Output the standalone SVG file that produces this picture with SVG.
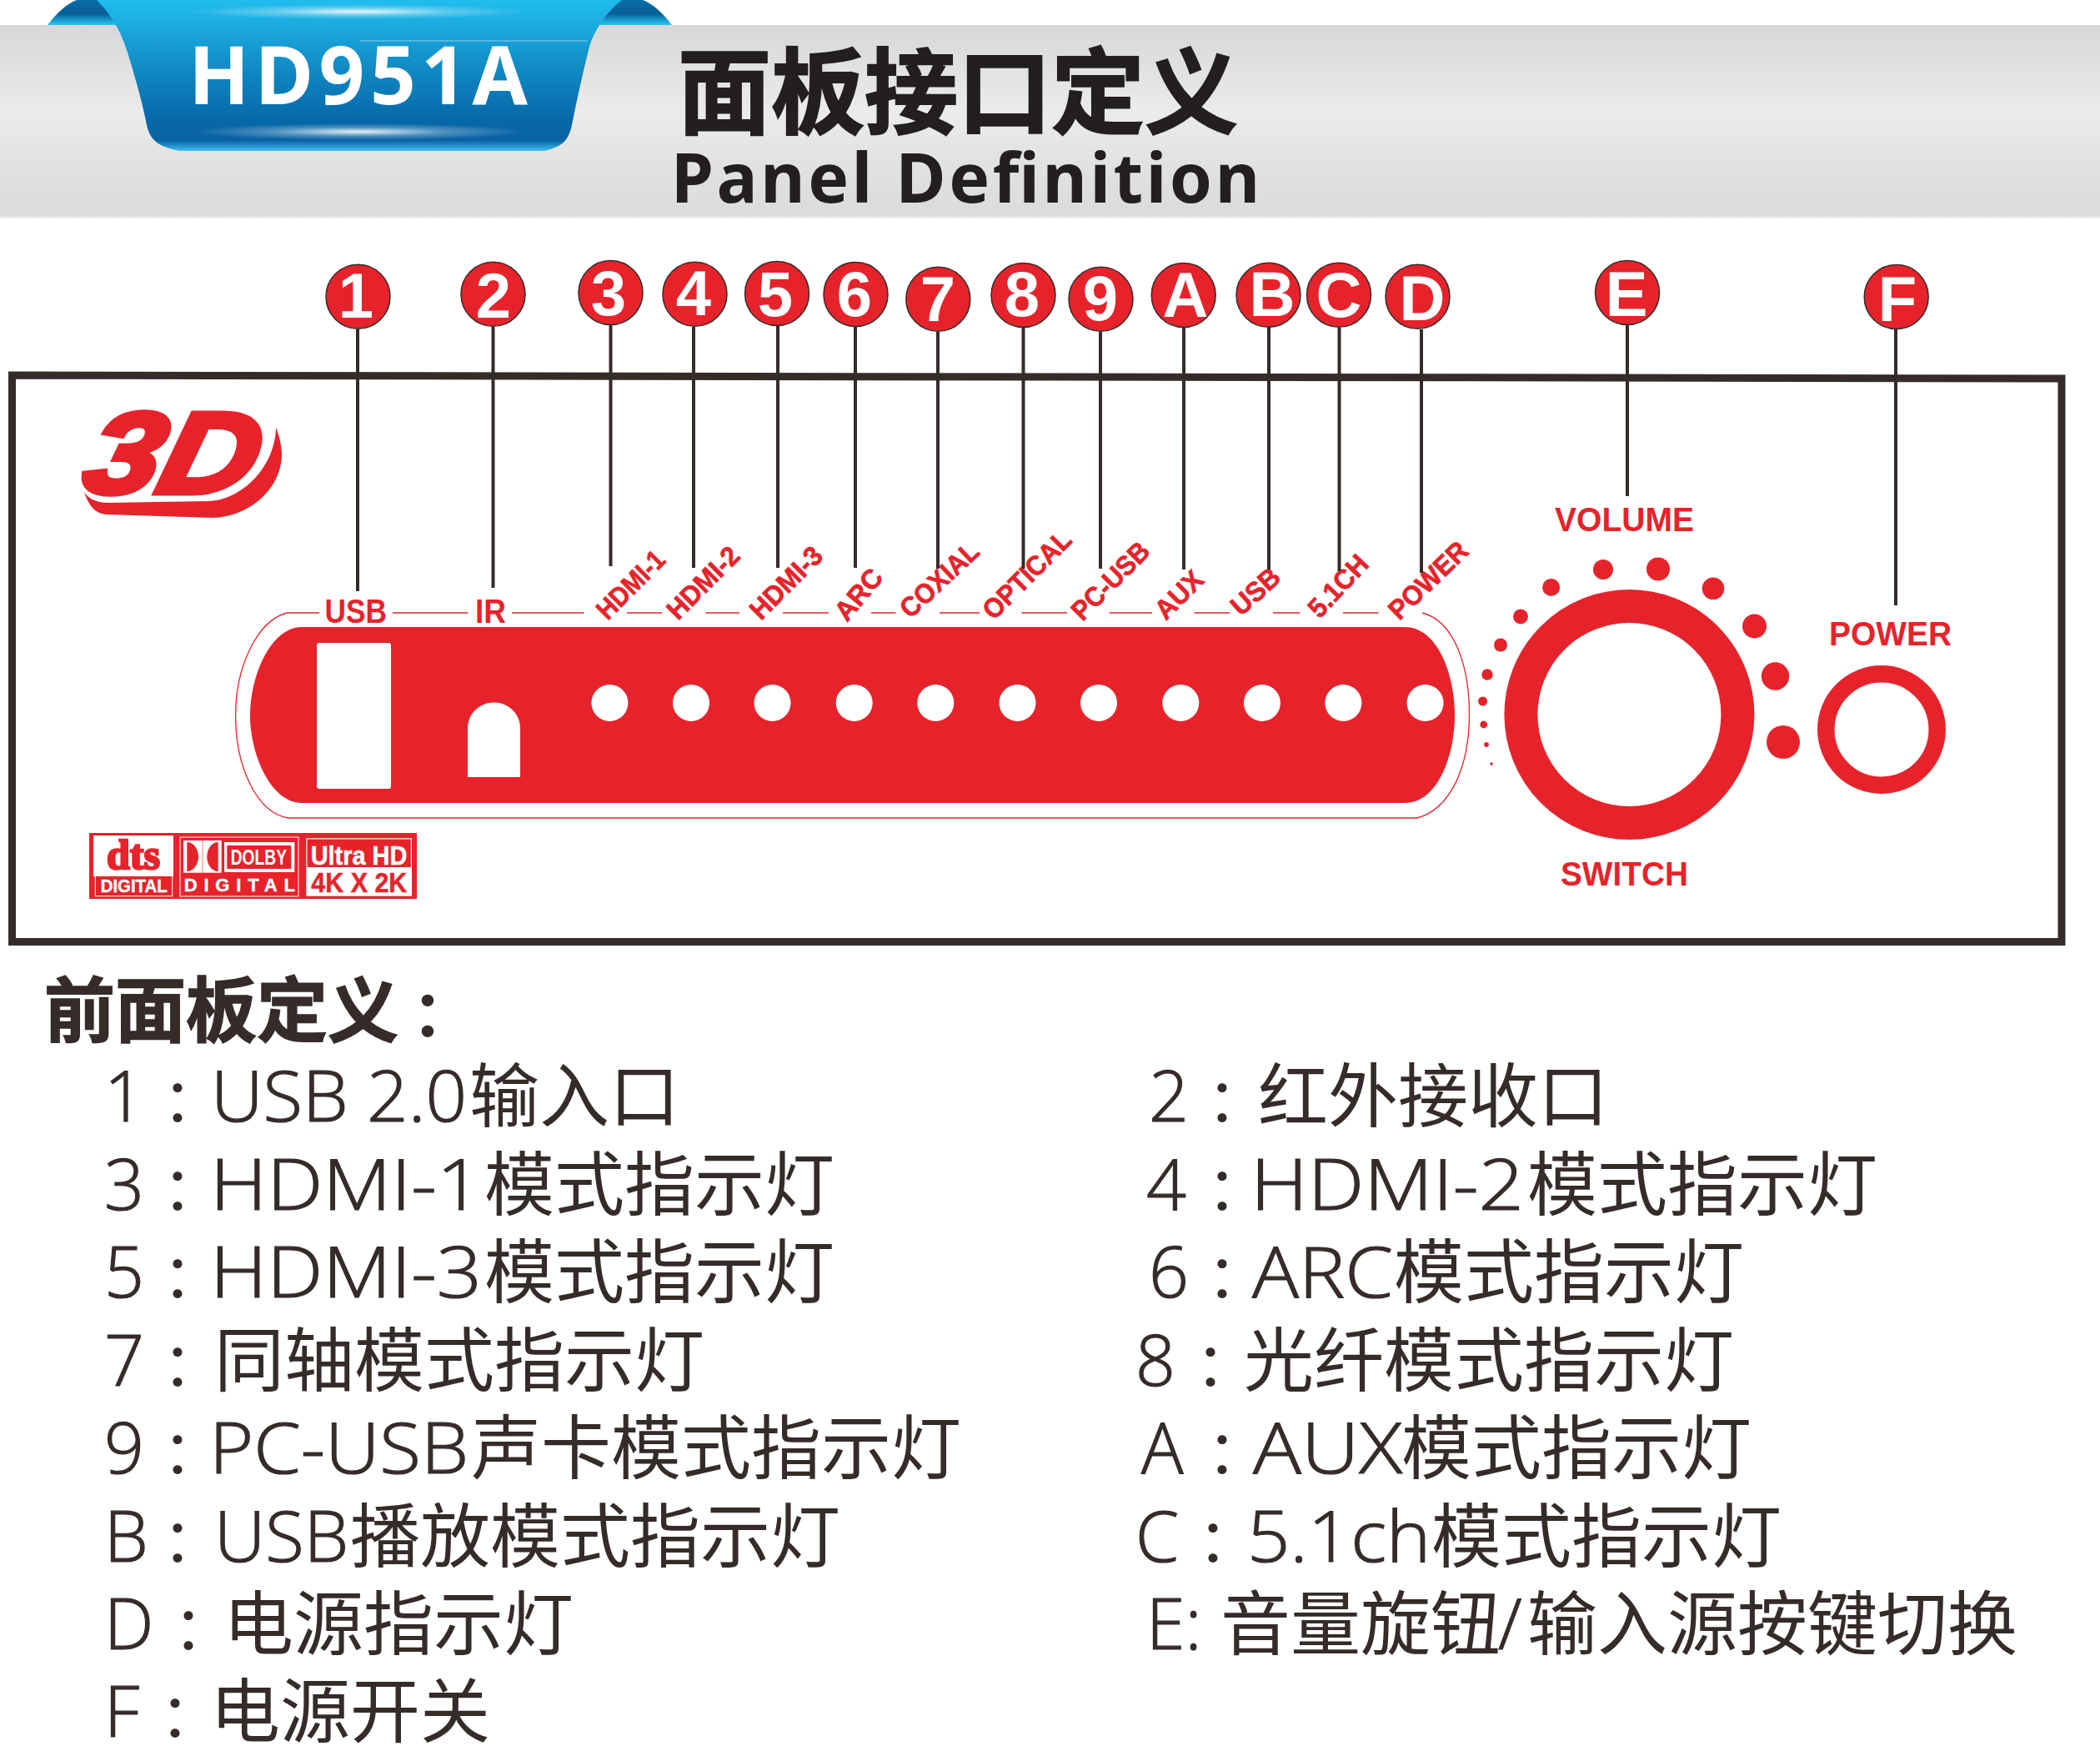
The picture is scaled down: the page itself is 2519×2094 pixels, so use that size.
<svg xmlns="http://www.w3.org/2000/svg" width="2519" height="2094" viewBox="0 0 2519 2094">
<style>
.red{fill:#e6232b}.wh{fill:#fff}
.lb{font-family:"Liberation Sans",Arial,sans-serif;font-weight:700;fill:#e6232b}
.rot{font-size:33px;stroke:#e6232b;stroke-width:.7}
.up{font-size:40px}
.num{font-family:"Liberation Sans",Arial,sans-serif;font-weight:700;font-size:76px;fill:#fff;text-anchor:middle}
.cj{font-family:"Noto Sans CJK SC",sans-serif;font-size:84px;fill:#352c2a}
.cl{font-family:"Noto Sans CJK SC",sans-serif;font-size:72px;fill:#352c2a}
.la{font-family:"Open Sans","Noto Sans",sans-serif;font-weight:300;font-size:84px;fill:#352c2a;stroke:#352c2a;stroke-width:1.2}
.bd{stroke:#352c2a;stroke-width:1.5;fill:#e6232b}
.ln{stroke:#352c2a;stroke-width:4;fill:none}
</style>
<defs>
<linearGradient id="band" x1="0" y1="0" x2="0" y2="1">
<stop offset="0" stop-color="#d6d7d9"/><stop offset=".45" stop-color="#ebebec"/><stop offset=".7" stop-color="#e2e2e3"/><stop offset=".98" stop-color="#dadbdc"/><stop offset="1" stop-color="#eeeeee"/>
</linearGradient>
<linearGradient id="rib" x1="0" y1="0" x2="0" y2="1">
<stop offset="0" stop-color="#20bdee"/><stop offset=".22" stop-color="#1aa5da"/><stop offset=".5" stop-color="#0f85bf"/><stop offset=".8" stop-color="#0668a8"/><stop offset=".93" stop-color="#0a62a3"/><stop offset="1" stop-color="#3bbff2"/>
</linearGradient>
<linearGradient id="fold" x1="0" y1="0" x2="0" y2="1">
<stop offset="0" stop-color="#0a6ea8"/><stop offset=".55" stop-color="#0a5d95"/><stop offset=".85" stop-color="#1aa5da"/><stop offset="1" stop-color="#36c0f0"/>
</linearGradient>
<radialGradient id="gl"><stop offset="0" stop-color="#fff" stop-opacity=".9"/><stop offset=".5" stop-color="#fff" stop-opacity=".3"/><stop offset="1" stop-color="#fff" stop-opacity="0"/></radialGradient>
</defs>

<g id="header">
<rect x="0" y="30" width="2519" height="232" fill="url(#band)"/>
<path d="M57 30C66 18 80 4 92 0H130L152 30Z" fill="url(#fold)"/>
<path d="M806 30C797 18 783 4 771 0H733L711 30Z" fill="url(#fold)"/>
<path d="M116 0C130 14 143 32 152 60C162 92 170 120 176 150C180 168 190 176 215 181H653C675 176 682 168 686 150C692 120 698 92 706 60C712 36 728 14 746 0Z" fill="url(#rib)"/>
<ellipse cx="430" cy="14" rx="205" ry="9" fill="url(#gl)"/>
<ellipse cx="430" cy="158" rx="200" ry="10" fill="url(#gl)"/>
<rect x="432" y="48" width="273" height="2" fill="#fff" opacity=".25"/>
<text x="226" y="125" textLength="407" lengthAdjust="spacing" style="font-family:'Noto Sans',sans-serif;font-weight:700;font-size:96px;fill:#fff">HD951A</text>
<text x="813" y="152" textLength="672" lengthAdjust="spacingAndGlyphs" style="font-family:'Noto Sans CJK SC',sans-serif;font-weight:700;font-size:112px;fill:#231f20;stroke:#231f20;stroke-width:2">面板接口定义</text>
<text x="805" y="243" textLength="706" lengthAdjust="spacing" style="font-family:'Noto Sans',sans-serif;font-weight:700;font-size:82px;fill:#231f20">Panel Definition</text>
</g>

<g id="panel">
<path d="M14.5 450L2473 454V1129.5H14.5Z" fill="#fff" stroke="#352c2a" stroke-width="9"/>
</g>

<g id="logo-3d">
<text transform="translate(95 591) skewX(-14)" x="0" y="0" textLength="205" lengthAdjust="spacingAndGlyphs" style="font-family:'Liberation Sans',sans-serif;font-weight:700;font-style:italic;font-size:138px;fill:#e6232b;stroke:#e6232b;stroke-width:7">3D</text>
<path class="red" d="M101 590C108 612 118 616 128 617L255 621C300 620 338 585 338 545C338 535 335 522 331 513C330 560 290 600 250 601L130 603C115 603 105 597 101 590Z"/>
</g>

<g id="front-strip">
<path class="red" d="M362 752H1685C1725 752 1745 810 1745 858C1745 905 1725 963 1685 963H362C325 963 300 905 300 858C300 810 325 752 362 752Z"/>
<path d="M383 735H344C308 745 282.600 800 282.600 858C282.600 920 308 975 346 981H1700C1740 970 1762.500 920 1762.500 856C1762.500 800 1745 745 1706 735M471 735H561M614 735H700.500M752 735H794M846.500 735H887M939 735H994M1045 735H1074.500M1127 735H1175M1225.500 735H1280M1330.700 735H1382M1432.500 735H1475M1527 735H1559.500M1611 735H1653.500" fill="none" stroke="#e6232b" stroke-width="1.300"/>
<rect class="wh" x="380" y="771" width="89" height="175" rx="3"/>
<path class="wh" d="M561 932V873.500C561 856 575 842.500 592.500 842.500C610 842.500 624 856 624 873.500V932Z"/>
<g class="wh">
<circle cx="731.400" cy="843" r="22"/><circle cx="829" cy="843" r="22"/><circle cx="926.500" cy="843" r="22"/><circle cx="1024.700" cy="843" r="22"/><circle cx="1122.300" cy="843" r="22"/><circle cx="1220.500" cy="843" r="22"/><circle cx="1318" cy="843" r="22"/><circle cx="1416.300" cy="843" r="22"/><circle cx="1513.900" cy="843" r="22"/><circle cx="1611.400" cy="843" r="22"/><circle cx="1709.600" cy="843" r="22"/>
</g>
<text class="lb up" x="389.600" y="747" textLength="74.400" lengthAdjust="spacingAndGlyphs">USB</text>
<text class="lb up" x="570" y="747" textLength="37" lengthAdjust="spacingAndGlyphs">IR</text>
<text class="lb rot" transform="translate(728.700 745) rotate(-45)" textLength="101" lengthAdjust="spacingAndGlyphs">HDMI-1</text>
<text class="lb rot" transform="translate(813.300 745) rotate(-45)" textLength="108" lengthAdjust="spacingAndGlyphs">HDMI-2</text>
<text class="lb rot" transform="translate(912.700 745) rotate(-45)" textLength="108" lengthAdjust="spacingAndGlyphs">HDMI-3</text>
<text class="lb rot" transform="translate(1016 747) rotate(-50)" textLength="70" lengthAdjust="spacingAndGlyphs">ARC</text>
<text class="lb rot" transform="translate(1092 743) rotate(-43)" textLength="116" lengthAdjust="spacingAndGlyphs">COXIAL</text>
<text class="lb rot" transform="translate(1192 745) rotate(-45)" textLength="135" lengthAdjust="spacingAndGlyphs">OPTICAL</text>
<text class="lb rot" transform="translate(1298.600 746) rotate(-45)" textLength="117" lengthAdjust="spacingAndGlyphs">PC-USB</text>
<text class="lb rot" transform="translate(1398.500 745) rotate(-45)" textLength="67" lengthAdjust="spacingAndGlyphs">AUX</text>
<text class="lb rot" transform="translate(1488.600 740) rotate(-42)" textLength="67" lengthAdjust="spacingAndGlyphs">USB</text>
<text class="lb rot" transform="translate(1583 743) rotate(-47)" textLength="89" lengthAdjust="spacingAndGlyphs">5.1CH</text>
<text class="lb rot" transform="translate(1678.600 745) rotate(-44)" textLength="118" lengthAdjust="spacingAndGlyphs">POWER</text>
</g>

<g id="volume-knob">
<circle cx="1954.400" cy="857" r="130" fill="none" stroke="#e6232b" stroke-width="40"/>
<g class="red">
<circle cx="2139" cy="890" r="20"/><circle cx="2129.500" cy="811" r="16.700"/><circle cx="2104.500" cy="751" r="14.500"/><circle cx="2055" cy="705.800" r="13.300"/><circle cx="1989" cy="682.500" r="14"/><circle cx="1923" cy="683" r="12"/><circle cx="1860.600" cy="704.400" r="10.500"/><circle cx="1824" cy="739.500" r="9"/><circle cx="1800" cy="773.500" r="8"/><circle cx="1784" cy="809" r="6.700"/><circle cx="1778.600" cy="841" r="5.500"/><circle cx="1779.700" cy="869" r="4.400"/><circle cx="1783" cy="893" r="2.900"/><circle cx="1789" cy="916" r="1.800"/>
</g>
<text class="lb up" x="1865" y="637" textLength="167" lengthAdjust="spacingAndGlyphs">VOLUME</text>
<text class="lb up" x="1872" y="1062" textLength="153" lengthAdjust="spacingAndGlyphs">SWITCH</text>
</g>

<g id="power-switch">
<circle cx="2257" cy="875" r="66.700" fill="none" stroke="#e6232b" stroke-width="20.500"/>
<text class="lb up" x="2194" y="773.600" textLength="147" lengthAdjust="spacingAndGlyphs">POWER</text>
</g>

<g id="certifications">
<rect class="red" x="107" y="999" width="393" height="79"/>
<rect class="wh" x="112" y="1002" width="96" height="49"/>
<text x="128" y="1041.500" textLength="64" lengthAdjust="spacingAndGlyphs" style="font-family:'Liberation Serif',serif;font-weight:700;font-size:50px;fill:#e6232b;stroke:#e6232b;stroke-width:2.500">dts</text>
<rect x="114.300" y="1050" width="92.400" height="24.700" fill="none" stroke="#fff" stroke-width="1"/>
<text x="120.700" y="1070" textLength="80" lengthAdjust="spacingAndGlyphs" style="font-family:'Liberation Sans',sans-serif;font-weight:700;font-size:22px;fill:#fff;stroke:#fff;stroke-width:.4">DIGITAL</text>
<rect x="216" y="1004" width="142" height="71" fill="none" stroke="#fff" stroke-width="1"/>
<rect class="wh" x="220" y="1008" width="22.700" height="38.700"/>
<path class="red" d="M224.300 1010V1045C232 1045 238 1037 238 1027.500C238 1018 232 1010 224.300 1010Z"/>
<rect class="wh" x="243.300" y="1008" width="22.400" height="38.700"/>
<path class="red" d="M261.700 1010V1045C254 1045 248.300 1037 248.300 1027.500C248.300 1018 254 1010 261.700 1010Z"/>
<rect class="wh" x="269" y="1010" width="84.300" height="36"/>
<rect class="red" x="272.300" y="1014" width="77" height="28"/>
<text x="276.700" y="1037.300" textLength="67.300" lengthAdjust="spacingAndGlyphs" style="font-family:'Liberation Sans',sans-serif;font-weight:700;font-size:26px;fill:#fff">DOLBY</text>
<text x="220.700" y="1069.300" textLength="133.300" lengthAdjust="spacing" style="font-family:'Liberation Sans',sans-serif;font-weight:700;font-size:22px;fill:#fff;stroke:#fff;stroke-width:.4">DIGITAL</text>
<rect class="wh" x="367.300" y="1005.300" width="126.700" height="69.400"/>
<rect class="red" x="368.500" y="1006.500" width="124.300" height="33.500"/>
<text x="372.700" y="1036.700" textLength="115.600" lengthAdjust="spacingAndGlyphs" style="font-family:'Liberation Sans',sans-serif;font-weight:700;font-size:32px;fill:#fff;stroke:#fff;stroke-width:.5">Ultra HD</text>
<text x="373.300" y="1070" textLength="115" lengthAdjust="spacingAndGlyphs" style="font-family:'Liberation Sans',sans-serif;font-weight:700;font-size:34px;fill:#e6232b;stroke:#e6232b;stroke-width:.5">4K X 2K</text>
</g>

<g id="connectors" class="ln">
<path d="M429 395V709M591.500 392V705M732.500 390V679M832 392V681M933 391V681M1026 392V681M1125 398V682M1227.500 393V682M1320 398V682M1420 393V683M1522 393V683M1606.500 393V685M1705 395V687M1952 390V595M2274 395V726"/>
</g>

<g id="badge-1"><circle class="bd" cx="429.500" cy="355.700" r="38.500"/><text class="num" x="427" y="381">1</text></g>
<g id="badge-2"><circle class="bd" cx="591.500" cy="352.700" r="38.500"/><text class="num" x="592" y="381">2</text></g>
<g id="badge-3"><circle class="bd" cx="732.500" cy="351" r="38.500"/><text class="num" x="730" y="378">3</text></g>
<g id="badge-4"><circle class="bd" cx="833.500" cy="352.700" r="38.500"/><text class="num" x="832" y="378">4</text></g>
<g id="badge-5"><circle class="bd" cx="932" cy="352" r="38.500"/><text class="num" x="930" y="379">5</text></g>
<g id="badge-6"><circle class="bd" cx="1026.500" cy="353" r="38.500"/><text class="num" x="1025" y="379">6</text></g>
<g id="badge-7"><circle class="bd" cx="1125.300" cy="358.800" r="38.500"/><text class="num" x="1125" y="385">7</text></g>
<g id="badge-8"><circle class="bd" cx="1227.500" cy="354" r="38.500"/><text class="num" x="1226" y="379">8</text></g>
<g id="badge-9"><circle class="bd" cx="1320.500" cy="358.800" r="38.500"/><text class="num" x="1320" y="384">9</text></g>
<g id="badge-A"><circle class="bd" cx="1419.700" cy="354" r="38.500"/><text class="num" x="1422" y="380">A</text></g>
<g id="badge-B"><circle class="bd" cx="1521.500" cy="353.700" r="38.500"/><text class="num" x="1526" y="379">B</text></g>
<g id="badge-C"><circle class="bd" cx="1606" cy="353.700" r="38.500"/><text class="num" x="1606" y="380">C</text></g>
<g id="badge-D"><circle class="bd" cx="1700.500" cy="355.700" r="38.500"/><text class="num" x="1706" y="384">D</text></g>
<g id="badge-E"><circle class="bd" cx="1952" cy="351" r="38.500"/><text class="num" x="1951" y="379">E</text></g>
<g id="badge-F"><circle class="bd" cx="2274.700" cy="356" r="38.500"/><text class="num" x="2276" y="385">F</text></g>

<g id="legend">
<text x="53" y="1243" style="font-family:'Noto Sans CJK SC',sans-serif;font-weight:700;font-size:85px;fill:#352c2a;stroke:#352c2a;stroke-width:1.500">前面板定义<tspan x="494" style="font-size:76px;stroke-width:0">：</tspan></text>
<g id="row-1"><text class="la" x="125" y="1345">1</text><text class="cl" x="195" y="1345">：</text><text class="la" x="253" y="1345" textLength="307" lengthAdjust="spacingAndGlyphs">USB 2.0</text><text class="cj" x="563" y="1345">输入口</text></g>
<g id="row-2"><text class="la" x="1378" y="1345">2</text><text class="cl" x="1448" y="1345">：</text><text class="cj" x="1509" y="1345">红外接收口</text></g>
<g id="row-3"><text class="la" x="125" y="1451">3</text><text class="cl" x="195" y="1451">：</text><text class="la" x="252" y="1451" textLength="326" lengthAdjust="spacingAndGlyphs">HDMI-1</text><text class="cj" x="581" y="1451">模式指示灯</text></g>
<g id="row-4"><text class="la" x="1375" y="1451">4</text><text class="cl" x="1448" y="1451">：</text><text class="la" x="1500" y="1451" textLength="328" lengthAdjust="spacingAndGlyphs">HDMI-2</text><text class="cj" x="1832" y="1451">模式指示灯</text></g>
<g id="row-5"><text class="la" x="125" y="1556">5</text><text class="cl" x="195" y="1556">：</text><text class="la" x="252" y="1556" textLength="326" lengthAdjust="spacingAndGlyphs">HDMI-3</text><text class="cj" x="581" y="1556">模式指示灯</text></g>
<g id="row-6"><text class="la" x="1378" y="1556">6</text><text class="cl" x="1448" y="1556">：</text><text class="la" x="1502" y="1556" textLength="169" lengthAdjust="spacingAndGlyphs">ARC</text><text class="cj" x="1672" y="1556">模式指示灯</text></g>
<g id="row-7"><text class="la" x="125" y="1662">7</text><text class="cl" x="195" y="1662">：</text><text class="cj" x="257" y="1662">同轴模式指示灯</text></g>
<g id="row-8"><text class="la" x="1362" y="1662">8</text><text class="cl" x="1434" y="1662">：</text><text class="cj" x="1492" y="1662">光纤模式指示灯</text></g>
<g id="row-9"><text class="la" x="125" y="1767">9</text><text class="cl" x="195" y="1767">：</text><text class="la" x="251" y="1767" textLength="311" lengthAdjust="spacingAndGlyphs">PC-USB</text><text class="cj" x="565" y="1767">声卡模式指示灯</text></g>
<g id="row-A"><text class="la" x="1369" y="1767">A</text><text class="cl" x="1448" y="1767">：</text><text class="la" x="1503" y="1767" textLength="179" lengthAdjust="spacingAndGlyphs">AUX</text><text class="cj" x="1681" y="1767">模式指示灯</text></g>
<g id="row-B"><text class="la" x="125" y="1873">B</text><text class="cl" x="195" y="1873">：</text><text class="la" x="257" y="1873" textLength="161" lengthAdjust="spacingAndGlyphs">USB</text><text class="cj" x="420" y="1873">播放模式指示灯</text></g>
<g id="row-C"><text class="la" x="1362" y="1873">C</text><text class="cl" x="1437" y="1873">：</text><text class="la" x="1496" y="1873" textLength="220" lengthAdjust="spacingAndGlyphs">5.1ch</text><text class="cj" x="1717" y="1873">模式指示灯</text></g>
<g id="row-D"><text class="la" x="125" y="1978">D</text><text class="cl" x="208" y="1978">：</text><text class="cj" x="268" y="1978">电源指示灯</text></g>
<g id="row-E"><text class="la" x="1375" y="1978">E:</text><text class="cj" x="1464" y="1978">音量旋钮</text><text class="la" x="1797" y="1978">/</text><text class="cj" x="1832" y="1978">输入源按键切换</text></g>
<g id="row-F"><text class="la" x="125" y="2083">F</text><text class="cl" x="192" y="2083">：</text><text class="cj" x="252" y="2083">电源开关</text></g>
</g>
</svg>
